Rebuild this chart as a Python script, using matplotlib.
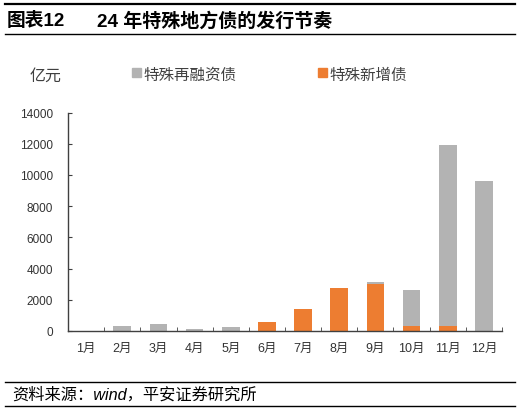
import matplotlib.pyplot as plt
import numpy as np

plt.rcParams['font.family'] = ['Liberation Sans', 'Noto Sans CJK SC', 'DejaVu Sans']

months = ["1月", "2月", "3月", "4月", "5月", "6月", "7月", "8月", "9月", "10月", "11月", "12月"]
new_special = [0, 0, 0, 0, 0, 600, 1400, 2730, 3000, 350, 300, 0]
refinance = [0, 350, 450, 130, 260, 0, 0, 0, 110, 2250, 11650, 9600]

gray = "#B3B3B3"
orange = "#ED7D31"
axis_col = "#404040"
text_col = "#333333"

fig = plt.figure(figsize=(5.21, 4.14), dpi=100)
W, H = 521, 414

ax = fig.add_axes([68 / W, (H - 332) / H, (502 - 68) / W, (332 - 113.6) / H])
x = np.arange(len(months))
ax.bar(x, new_special, width=0.49, color=orange, zorder=2)
ax.bar(x, refinance, width=0.49, bottom=new_special, color=gray, zorder=2)

ax.set_xlim(-0.5, len(months) - 0.5)
ax.set_ylim(0, 14000)
ax.set_yticks(np.arange(0, 14001, 2000))
ax.tick_params(axis='y', labelsize=8.5, colors=text_col, color=axis_col,
               direction='in', length=3, pad=11)
ax.set_xticks(x)
ax.set_xticklabels(months)
ax.set_xticks(np.arange(-0.5, len(months), 1), minor=True)
ax.tick_params(axis='x', which='major', length=0, labelsize=9, colors=text_col, pad=8)
ax.tick_params(axis='x', which='minor', direction='in', length=3, color=axis_col)
for s in ["top", "right"]:
    ax.spines[s].set_visible(False)
for s in ["left", "bottom"]:
    ax.spines[s].set_color(axis_col)
    ax.spines[s].set_linewidth(1.0)

# unit and legend
fig.text(30 / W, 1 - 76 / H, "亿元", fontsize=11.5, color=axis_col, va="center")
fig.patches.append(plt.Rectangle((132 / W, 1 - 77.5 / H), 8.5 / W, 8.5 / H,
                                 transform=fig.transFigure, color=gray))
fig.text(143 / W, 1 - 75 / H, "特殊再融资债", fontsize=11.2, color=axis_col, va="center")
fig.patches.append(plt.Rectangle((318 / W, 1 - 77.5 / H), 9 / W, 9 / H,
                                 transform=fig.transFigure, color=orange))
fig.text(329 / W, 1 - 75 / H, "特殊新增债", fontsize=11.2, color=axis_col, va="center")

# title block
fig.add_artist(plt.Line2D([5 / W, 515 / W], [1 - 5 / H, 1 - 5 / H], color="black", lw=1.6))
fig.add_artist(plt.Line2D([5 / W, 515 / W], [1 - 35 / H, 1 - 35 / H], color="black", lw=1.0))
fig.text(7 / W, 1 - 21 / H, "图表12", fontsize=13.5, fontweight="bold", va="center")
fig.text(97 / W, 1 - 21 / H, "24 年特殊地方债的发行节奏", fontsize=13.7, fontweight="bold", va="center")

# footer
fig.add_artist(plt.Line2D([5 / W, 515 / W], [1 - 383 / H, 1 - 383 / H], color="black", lw=1.0))
fig.add_artist(plt.Line2D([5 / W, 515 / W], [1 - 407 / H, 1 - 407 / H], color="black", lw=1.0))
fig.text(12 / W, 1 - 395 / H, "资料来源：wind，平安证券研究所", fontsize=11.7, style="italic", va="center")

fig.savefig("out.png", dpi=100)
